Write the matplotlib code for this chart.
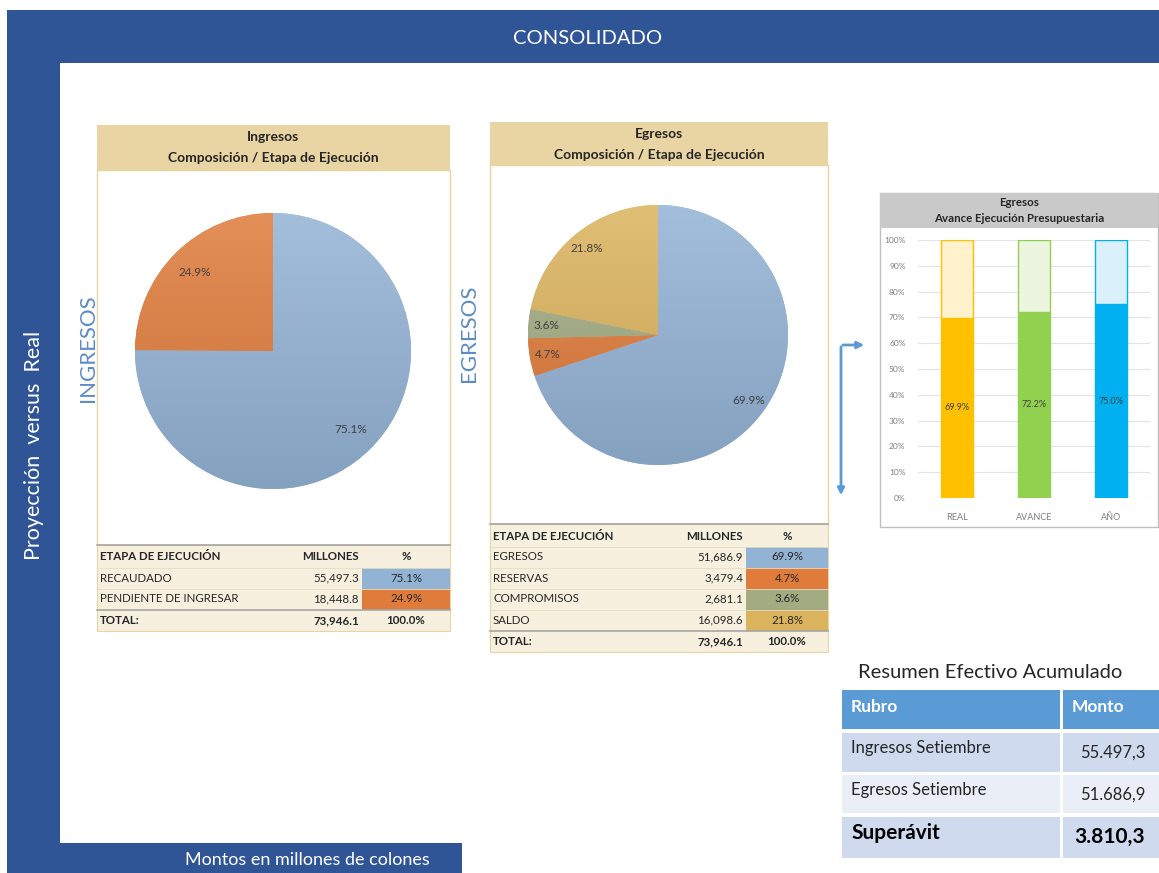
import numpy as np
import matplotlib.pyplot as plt
from matplotlib.patches import Rectangle
from matplotlib.colors import to_rgb

# ---- data ----
ing_labels = ['RECAUDADO', 'PENDIENTE DE INGRESAR']
ing_millones = [55497.3, 18448.8]
ing_pct = [75.1, 24.9]
ing_colors = ['#93B3D5', '#DF7B3B']

egr_labels = ['EGRESOS', 'RESERVAS', 'COMPROMISOS', 'SALDO']
egr_millones = [51686.9, 3479.4, 2681.1, 16098.6]
egr_pct = [69.9, 4.7, 3.6, 21.8]
egr_colors = ['#93B3D5', '#DF7B3B', '#A2AB82', '#DBB35C']

total_millones = 73946.1

avance_cats = ['REAL', 'AVANCE', 'AÑO']
avance_vals = [69.9, 72.2, 75.0]
avance_colors = ['#FFC000', '#92D050', '#00B0F0']
avance_light = ['#FFF2CC', '#EBF5DF', '#DAF1FB']

resumen_rubros = ['Ingresos Setiembre', 'Egresos Setiembre', 'Superávit']
resumen_montos = ['55.497,3', '51.686,9', '3.810,3']

plt.rcParams['font.family'] = ['Lato', 'DejaVu Sans']

W, H = 1159, 873
BLUE = '#2F5597'
TAN = '#E9D4A3'
CREAM = '#F7F0DF'
DARK = '#262626'

fig = plt.figure(figsize=(W / 100, H / 100), dpi=100)
bg = fig.add_axes([0, 0, 1, 1])
bg.set_xlim(0, W)
bg.set_ylim(H, 0)
bg.axis('off')


def box(x0, y0, x1, y1, **kw):
    bg.add_patch(Rectangle((x0, y0), x1 - x0, y1 - y0, **kw))


def sub_axes(x0, y0, x1, y1):
    return fig.add_axes([x0 / W, 1 - y1 / H, (x1 - x0) / W, (y1 - y0) / H])


# frame
box(7, 10, W, 63, color=BLUE, lw=0)
box(7, 10, 60, H, color=BLUE, lw=0)
box(7, 843, 462, H, color=BLUE, lw=0)
bg.text(588, 38, 'CONSOLIDADO', color='white', fontsize=14.5, ha='center', va='center')
bg.text(34, 445, 'Proyección  versus  Real', color='white', fontsize=15.5,
        rotation=90, ha='center', va='center')
bg.text(307, 860, 'Montos en millones de colones', color='white', fontsize=13,
        ha='center', va='center')


def etapa_panel(x0, x1, y_head, y_pie, y_tab, title, labels, millones, pct, colors,
                num_x, pct_x0):
    # header + white pie area
    box(x0, y_head, x1, y_pie, color=TAN, lw=0)
    bg.text((x0 + x1) / 2, y_head + 12, title, fontsize=10, fontweight='bold',
            color=DARK, ha='center', va='center')
    bg.text((x0 + x1) / 2, y_head + 33, 'Composición / Etapa de Ejecución', fontsize=10,
            fontweight='bold', color=DARK, ha='center', va='center')
    box(x0, y_pie, x1, y_tab, facecolor='white', edgecolor=TAN, lw=1)
    n = len(labels)
    y_bot = y_tab + 23 + 21 * n + 21
    box(x0, y_tab, x1, y_bot, facecolor=CREAM, edgecolor=TAN, lw=0.8)
    bg.plot([x0, x1], [y_tab, y_tab], color='#A6A6A6', lw=1.2)
    yh = y_tab + 12
    fs = 8.3
    bg.text(x0 + 3, yh, 'ETAPA DE EJECUCIÓN', fontsize=fs, fontweight='bold',
            color=DARK, va='center')
    bg.text(num_x, yh, 'MILLONES', fontsize=fs, fontweight='bold', color=DARK,
            va='center', ha='right')
    bg.text((pct_x0 + x1) / 2, yh, '%', fontsize=fs, fontweight='bold', color=DARK,
            va='center', ha='center')
    for i in range(n):
        yc = y_tab + 33 + 21 * i
        bg.plot([x0, x1], [yc - 10.5, yc - 10.5], color='#E6DCC3', lw=0.6)
        box(pct_x0, yc - 10.5, x1, yc + 10.5, color=colors[i], lw=0)
        bg.text(x0 + 3, yc, labels[i], fontsize=fs, color=DARK, va='center')
        bg.text(num_x, yc, f'{millones[i]:,.1f}', fontsize=fs, color=DARK,
                va='center', ha='right')
        bg.text((pct_x0 + x1) / 2, yc, f'{pct[i]:.1f}%', fontsize=fs, color=DARK,
                va='center', ha='center')
    ysep = y_tab + 23 + 21 * n
    bg.plot([x0, x1], [ysep, ysep], color='#A6A6A6', lw=1.2)
    yt = ysep + 10.5
    bg.text(x0 + 3, yt, 'TOTAL:', fontsize=fs, fontweight='bold', color=DARK, va='center')
    bg.text(num_x, yt, f'{total_millones:,.1f}', fontsize=fs, fontweight='bold',
            color=DARK, va='center', ha='right')
    bg.text((pct_x0 + x1) / 2, yt, f'{sum(pct):.1f}%', fontsize=fs, fontweight='bold',
            color=DARK, va='center', ha='center')


etapa_panel(97, 450, 125, 170, 545, 'Ingresos', ing_labels, ing_millones, ing_pct,
            ing_colors, 359, 362)
etapa_panel(490, 828, 122, 165, 524, 'Egresos', egr_labels, egr_millones, egr_pct,
            egr_colors, 743, 746)

bg.text(88, 348, 'INGRESOS', color='#5B8CC8', fontsize=16, rotation=90,
        ha='center', va='center')
bg.text(469, 333, 'EGRESOS', color='#5B8CC8', fontsize=16, rotation=90,
        ha='center', va='center')


def shade(ax, wedges, colors):
    # vertical light-to-dark fill, like the spreadsheet's gradient pies
    t = np.linspace(1, 0, 256)[:, None, None]
    for w, c in zip(wedges, colors):
        rgb = np.array(to_rgb(c))
        light = rgb + (1 - rgb) * 0.15
        dark = rgb * 0.9
        img = dark + (light - dark) * t
        im = ax.imshow(img, extent=(-1, 1, -1, 1), origin='upper', aspect='auto',
                       zorder=1.5)
        im.set_clip_path(w)


# pies
ax1 = sub_axes(135, 213, 411, 489)
w1, _, t1 = ax1.pie(ing_pct, colors=ing_colors, startangle=90, counterclock=False,
                    autopct='%.1f%%', pctdistance=0.8)
shade(ax1, w1, ing_colors)
ax2 = sub_axes(528, 205, 788, 465)
w2, _, t2 = ax2.pie(egr_pct, colors=egr_colors, startangle=90, counterclock=False,
                    autopct='%.1f%%', pctdistance=0.86)
shade(ax2, w2, egr_colors)
for t in list(t1) + list(t2):
    t.set_fontsize(8.5)
    t.set_color('#404040')
    t.set_zorder(3)
for ax in (ax1, ax2):
    ax.set_xlim(-1, 1)
    ax.set_ylim(-1, 1)
    ax.axis('off')

# arrow
bg.annotate('', xy=(841, 498), xytext=(841, 344),
            arrowprops=dict(arrowstyle='-|>', color='#5B9BD5', lw=2, mutation_scale=10))
bg.annotate('', xy=(867, 345), xytext=(840, 345),
            arrowprops=dict(arrowstyle='-|>', color='#5B9BD5', lw=2, mutation_scale=10))

# avance chart
box(880, 193, 1158, 527, facecolor='white', edgecolor='#BFBFBF', lw=1)
box(880, 193, 1158, 228, color='#C9C9C9', lw=0)
bg.text(1019, 202, 'Egresos', fontsize=8.3, fontweight='bold', color=DARK,
        ha='center', va='center')
bg.text(1019, 219, 'Avance Ejecución Presupuestaria', fontsize=8.3, fontweight='bold',
        color=DARK, ha='center', va='center')

ax3 = sub_axes(918, 240, 1150, 498)
xs = range(len(avance_cats))
fill = [v / 100 for v in avance_vals]
ax3.bar(xs, fill, width=0.41, color=avance_colors, edgecolor=avance_colors, lw=1, zorder=3)
ax3.bar(xs, [1 - f for f in fill], bottom=fill, width=0.41, color=avance_light,
        edgecolor=avance_colors, lw=1, zorder=3)
for i, v in enumerate(avance_vals):
    ax3.text(i, v / 200, f'{v:.1f}%', fontsize=6.5, color='#404040',
             ha='center', va='center', zorder=4)
ax3.set_xlim(-0.5, 2.5)
ax3.set_ylim(0, 1)
ax3.set_yticks([i / 10 for i in range(11)])
ax3.set_yticklabels([f'{i * 10}%' for i in range(11)])
ax3.set_xticks(list(xs))
ax3.set_xticklabels(avance_cats)
ax3.tick_params(length=0, labelsize=6, labelcolor='#7F7F7F', pad=9)
ax3.tick_params(axis='x', labelsize=6.5, pad=11)
ax3.grid(axis='y', color='#E3E3E3', lw=0.8, zorder=0)
for s in ax3.spines.values():
    s.set_visible(False)
ax3.axhline(0, color='#D0D0D0', lw=0.8)
ax3.set_facecolor('none')

# resumen
bg.text(858, 673, 'Resumen Efectivo Acumulado', fontsize=14.5, color=DARK,
        ha='left', va='center')
cx = [(842, 1060), (1063, W)]
box(cx[0][0], 690, cx[0][1], 729, color='#5B9BD5', lw=0)
box(cx[1][0], 690, cx[1][1], 729, color='#5B9BD5', lw=0)
bg.text(851, 707, 'Rubro', fontsize=12.5, fontweight='bold', color='white', va='center')
bg.text(1072, 707, 'Monto', fontsize=12.5, fontweight='bold', color='white', va='center')
rows_y = [(733, 772), (775, 813), (817, 858)]
row_cols = ['#CFDAEE', '#E9EEF7', '#CFDAEE']
for i, (ya, yb) in enumerate(rows_y):
    for xa, xb in cx:
        box(xa, ya, xb, yb, color=row_cols[i], lw=0)
    last = i == len(rows_y) - 1
    bg.text(851, ya + 15 if not last else ya + 16, resumen_rubros[i],
            fontsize=15 if last else 12, fontweight='bold' if last else 'normal',
            color='black' if last else DARK, va='center')
    bg.text(1145, ya + 20, resumen_montos[i], fontsize=15 if last else 12,
            fontweight='bold' if last else 'normal',
            color='black' if last else DARK, va='center', ha='right')

fig.savefig('out.png', dpi=100)
